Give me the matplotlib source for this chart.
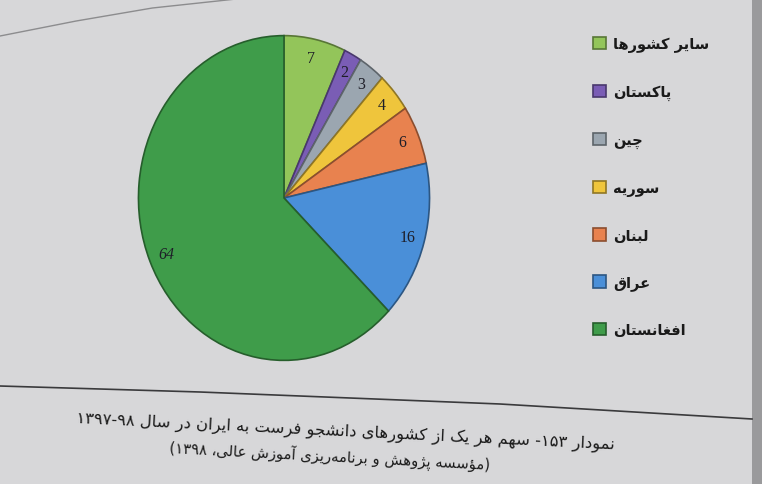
import re
import matplotlib
matplotlib.use("Agg")
import matplotlib.pyplot as plt
from matplotlib.lines import Line2D
from matplotlib.colors import to_rgb

# ---------------- data ----------------
countries = ['سایر کشورها', 'پاکستان', 'چین', 'سوریه', 'لبنان', 'عراق', 'افغانستان']
shares = [7, 2, 3, 4, 6, 16, 64]
colors = ['#93c55a', '#7a5db5', '#9ba6b0', '#efc53c', '#e8824f', '#4a8fd8', '#3f9c4a']
caption_line1 = 'نمودار ۱۵۳- سهم هر یک از کشورهای دانشجو فرست به ایران در سال ۱۳۹۷-۹۸'
caption_line2 = '(مؤسسه پژوهش و برنامه\u200cریزی آموزش عالی، ۱۳۹۸)'

# ------------- minimal Persian shaping (matplotlib has no RTL shaping) -------------
FORMS = {
    'ا': ('\uFE8D', '\uFE8E', None, None),
    'آ': ('\uFE81', '\uFE82', None, None),
    'ب': ('\uFE8F', '\uFE90', '\uFE91', '\uFE92'),
    'پ': ('\uFB56', '\uFB57', '\uFB58', '\uFB59'),
    'ت': ('\uFE95', '\uFE96', '\uFE97', '\uFE98'),
    'ج': ('\uFE9D', '\uFE9E', '\uFE9F', '\uFEA0'),
    'چ': ('\uFB7A', '\uFB7B', '\uFB7C', '\uFB7D'),
    'د': ('\uFEA9', '\uFEAA', None, None),
    'ر': ('\uFEAD', '\uFEAE', None, None),
    'ز': ('\uFEAF', '\uFEB0', None, None),
    'ژ': ('\uFB8A', '\uFB8B', None, None),
    'س': ('\uFEB1', '\uFEB2', '\uFEB3', '\uFEB4'),
    'ش': ('\uFEB5', '\uFEB6', '\uFEB7', '\uFEB8'),
    'ع': ('\uFEC9', '\uFECA', '\uFECB', '\uFECC'),
    'غ': ('\uFECD', '\uFECE', '\uFECF', '\uFED0'),
    'ف': ('\uFED1', '\uFED2', '\uFED3', '\uFED4'),
    'ق': ('\uFED5', '\uFED6', '\uFED7', '\uFED8'),
    'ک': ('\uFB8E', '\uFB8F', '\uFB90', '\uFB91'),
    'ل': ('\uFEDD', '\uFEDE', '\uFEDF', '\uFEE0'),
    'م': ('\uFEE1', '\uFEE2', '\uFEE3', '\uFEE4'),
    'ن': ('\uFEE5', '\uFEE6', '\uFEE7', '\uFEE8'),
    'ه': ('\uFEE9', '\uFEEA', '\uFEEB', '\uFEEC'),
    'و': ('\uFEED', '\uFEEE', None, None),
    'ؤ': ('\uFE85', '\uFE86', None, None),
    'ی': ('\uFBFC', '\uFBFD', '\uFBFE', '\uFBFF'),
}
LAMALEF = {'ا': ('\uFEFB', '\uFEFC'), 'آ': ('\uFEF5', '\uFEF6')}


def shape(text):
    out = []
    n = len(text)
    i = 0
    while i < n:
        c = text[i]
        prev = text[i - 1] if i > 0 else ''
        nxt = text[i + 1] if i + 1 < n else ''
        if c not in FORMS:
            if c != '\u200c':
                out.append(c)
            i += 1
            continue
        jp = prev in FORMS and FORMS[prev][2] is not None
        if c == 'ل' and nxt in LAMALEF:
            out.append(LAMALEF[nxt][1 if jp else 0])
            i += 2
            continue
        jn = FORMS[c][2] is not None and nxt in FORMS
        iso, fin, ini, med = FORMS[c]
        if jp and jn:
            out.append(med)
        elif jp:
            out.append(fin)
        elif jn:
            out.append(ini)
        else:
            out.append(iso)
        i += 1
    vis = ''.join(out)[::-1]
    vis = re.sub(r'[0-9\u06F0-\u06F9]+(?:-[0-9\u06F0-\u06F9]+)*', lambda m: m.group(0)[::-1], vis)
    vis = vis.translate(str.maketrans('()', ')('))
    return vis


# ---------------- figure ----------------
W, H = 762, 485
fig = plt.figure(figsize=(W / 100, H / 100), dpi=100)
fig.patch.set_facecolor('#d7d7d9')

# page shadow at right edge and decorative lines
fig.add_artist(plt.Rectangle((752 / W, 0), 10 / W, 1, transform=fig.transFigure,
                             facecolor='#9a9a9c', edgecolor='none'))
fig.add_artist(Line2D([0, 0.1, 0.2, 0.31], [1 - 37 / H, 1 - 22 / H, 1 - 9 / H, 1.0],
                      transform=fig.transFigure, color='#8c8c8e', lw=1.0))
fig.add_artist(Line2D([0, 200 / W, 500 / W, 752 / W], [1 - 387 / H, 1 - 393 / H, 1 - 405 / H, 1 - 420 / H],
                      transform=fig.transFigure, color='#3a3a3c', lw=1.2))

# pie axes (slightly elliptical as in the photo)
cx, cy, rx, ry = 284, 199, 147, 164
ax = fig.add_axes([(cx - rx) / W, 1 - (cy + ry) / H, 2 * rx / W, 2 * ry / H])
ax.set_facecolor('none')

edge_cols = [tuple(v * 0.6 for v in to_rgb(c)) for c in colors]
wedges, texts = ax.pie(shares, labels=[str(v) for v in shares], colors=colors,
                       startangle=90, counterclock=False, labeldistance=0.88,
                       wedgeprops=dict(linewidth=1.2),
                       textprops=dict(family='Liberation Serif', fontsize=11.5, color='#1e1e28',
                                      ha='center', va='center'))
for w, ec in zip(wedges, edge_cols):
    w.set_edgecolor(ec)
for t, v in zip(texts, shares):
    t.set_ha('center')
    t.set_va('center')
    if v == max(shares):
        t.set_style('italic')
ax.set_aspect('auto')
ax.set_xlim(-1.01, 1.01)
ax.set_ylim(-1.01, 1.01)

# legend
leg = fig.legend(wedges, [shape(c) for c in countries], loc='upper left',
                 bbox_to_anchor=(579.5 / W, 1 - 24 / H), frameon=False,
                 prop=dict(family='DejaVu Sans', weight='bold', size=10.5),
                 handlelength=0.93, handleheight=0.93, handletextpad=0.5,
                 labelspacing=2.18)
for txt in leg.get_texts():
    txt.set_color('#1a1a1a')

# caption (tilted like the photographed page)
fig.text(346 / W, 1 - 432 / H, shape(caption_line1), family='DejaVu Sans', fontsize=11.8,
         color='#1a1a1a', ha='center', va='center', rotation=-2.8, rotation_mode='anchor')
fig.text(330 / W, 1 - 456 / H, shape(caption_line2), family='DejaVu Sans', fontsize=10.6,
         color='#1a1a1a', ha='center', va='center', rotation=-3.0, rotation_mode='anchor')

fig.savefig('out.png', dpi=100, facecolor=fig.get_facecolor())
